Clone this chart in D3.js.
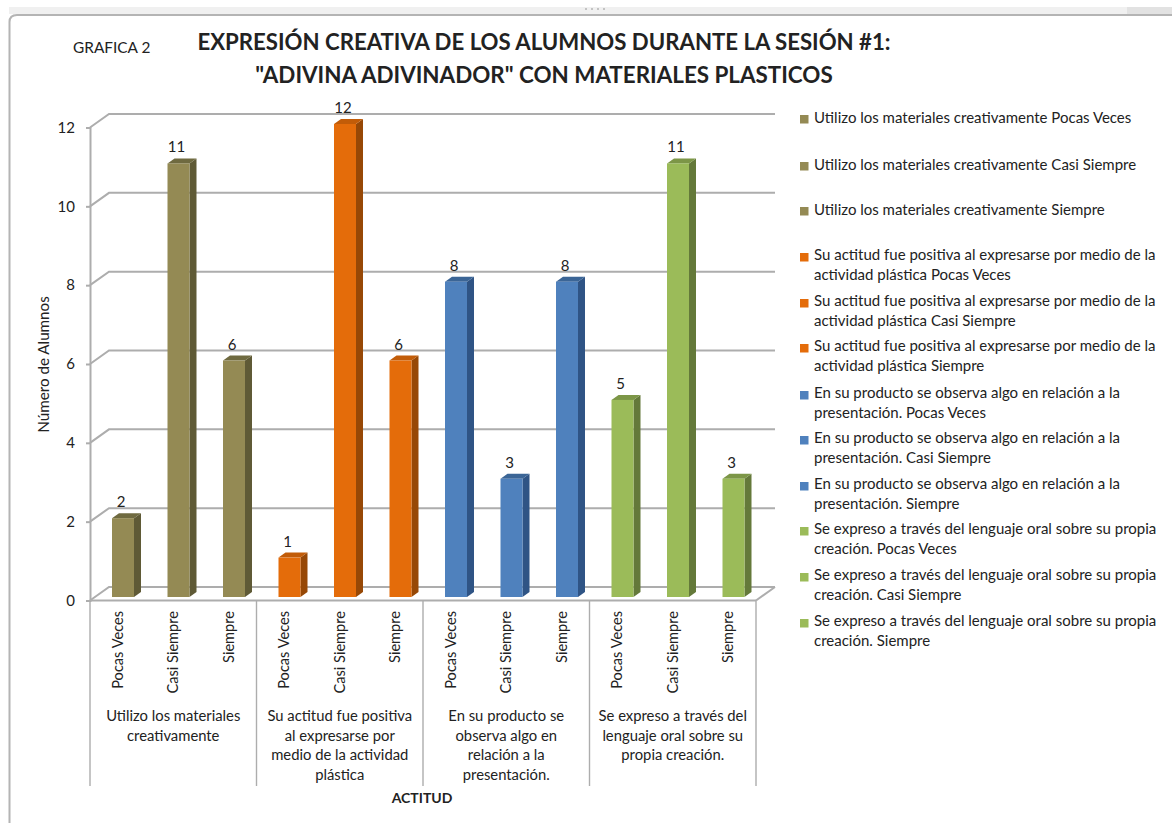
<!DOCTYPE html>
<html>
<head>
<meta charset="utf-8">
<script src="https://cdn.jsdelivr.net/npm/d3@7"></script>
<style>
  body { margin: 0; background: #fff; }
  text { font-family: Lato, "Open Sans", sans-serif; fill: #222; }
</style>
</head>
<body>
<svg id="chart" width="1172" height="823"></svg>
<script>
const frequency = ["Pocas Veces", "Casi Siempre", "Siempre"];
const groupLines = [
  ["Utilizo los materiales", "creativamente"],
  ["Su actitud fue positiva", "al expresarse por", "medio de la actividad", "plástica"],
  ["En su producto se", "observa algo en", "relación a la", "presentación."],
  ["Se expreso a través del", "lenguaje oral sobre su", "propia creación."]
];
const legendLines = [
  ["Utilizo los materiales creativamente Pocas Veces"],
  ["Utilizo los materiales creativamente Casi Siempre"],
  ["Utilizo los materiales creativamente Siempre"],
  ["Su actitud fue positiva al expresarse por medio de la", "actividad plástica Pocas Veces"],
  ["Su actitud fue positiva al expresarse por medio de la", "actividad plástica Casi Siempre"],
  ["Su actitud fue positiva al expresarse por medio de la", "actividad plástica Siempre"],
  ["En su producto se observa algo en relación a la", "presentación. Pocas Veces"],
  ["En su producto se observa algo en relación a la", "presentación. Casi Siempre"],
  ["En su producto se observa algo en relación a la", "presentación. Siempre"],
  ["Se expreso a través del lenguaje oral sobre su propia", "creación. Pocas Veces"],
  ["Se expreso a través del lenguaje oral sobre su propia", "creación. Casi Siempre"],
  ["Se expreso a través del lenguaje oral sobre su propia", "creación. Siempre"]
];
const legendTops = [118, 165, 210, 255, 301, 346, 393, 438, 484, 529, 575, 621];
const values = [2, 11, 6, 1, 12, 6, 8, 3, 8, 5, 11, 3];
const yTicks = [0, 2, 4, 6, 8, 10, 12];
const frontColors = ["#948a54", "#e46c0a", "#4f81bd", "#9bbb59"];
const sideColors = ["#5f5a36", "#974806", "#2f5485", "#64793a"];
const topColors = ["#6f6a40", "#c25c08", "#3b6596", "#7c9647"];

const svg = d3.select("#chart");

const plotLeft = 90, plotRight = 756, plotBottom = 600.5, plotTop = 127.5;
const depthX = 19, depthY = 13.5;
const barDepthX = 7, barDepthY = 5, barLift = 3.5;
const gridColor = "#adadad";

const x = d3.scaleBand().domain(d3.range(values.length)).range([plotLeft, plotRight]);
const y = d3.scaleLinear().domain([0, 12]).range([plotBottom, plotTop]);
const barOffset = 22, barWidth = 22;
const groupOf = i => Math.floor(i / frequency.length);

// window frame
svg.append("rect").attr("x", 9).attr("y", 7).attr("width", 1163).attr("height", 7).attr("fill", "#f0f0f0");
svg.append("rect").attr("x", 1127).attr("y", 7).attr("width", 45).attr("height", 7).attr("fill", "#e2e2e2");
svg.append("path")
  .attr("d", "M9.5,823V22Q9.5,15 17,15H1172")
  .attr("fill", "none").attr("stroke", "#b4b4b4").attr("stroke-width", 2);
svg.append("g").selectAll("circle").data(d3.range(4)).join("circle")
  .attr("cx", d => 586 + d * 6).attr("cy", 9).attr("r", 1).attr("fill", "#b4b4b4");

// back wall gridlines
svg.append("g").selectAll("path").data(yTicks).join("path")
  .attr("d", d => `M${plotLeft},${y(d)}L${plotLeft + depthX},${y(d) - depthY}H${plotRight + depthX}`)
  .attr("fill", "none").attr("stroke", gridColor).attr("stroke-width", 2);

// floor
svg.append("path")
  .attr("d", `M${plotRight},${plotBottom}L${plotRight + depthX},${plotBottom - depthY}`)
  .attr("fill", "none").attr("stroke", gridColor).attr("stroke-width", 2);

// bars
const bars = svg.append("g").selectAll("g").data(values).join("g");
const barX = i => x(i) + barOffset;
const barTop = d => y(d) - barLift;
const barBase = y(0) - barLift;
bars.append("path")
  .attr("fill", (d, i) => sideColors[groupOf(i)])
  .attr("d", (d, i) => `M${barX(i) + barWidth},${barTop(d)}l${barDepthX},${-barDepthY}V${barBase - barDepthY}l${-barDepthX},${barDepthY}Z`);
bars.append("path")
  .attr("fill", (d, i) => topColors[groupOf(i)])
  .attr("d", (d, i) => `M${barX(i)},${barTop(d)}l${barDepthX},${-barDepthY}h${barWidth}l${-barDepthX},${barDepthY}Z`);
bars.append("rect")
  .attr("x", (d, i) => barX(i))
  .attr("y", d => barTop(d))
  .attr("width", barWidth)
  .attr("height", d => barBase - barTop(d))
  .attr("fill", (d, i) => frontColors[groupOf(i)]);
bars.append("text")
  .attr("x", (d, i) => barX(i) + barWidth / 2 - 2)
  .attr("y", d => barTop(d) - 11)
  .attr("text-anchor", "middle")
  .attr("font-size", 15)
  .text(d => d);

// y axis
const yAxis = svg.append("g")
  .attr("transform", `translate(${plotLeft},0)`)
  .call(d3.axisLeft(y).tickValues(yTicks).tickSize(4).tickPadding(11));
yAxis.selectAll("path,line").attr("stroke", gridColor).attr("stroke-width", 2);
yAxis.selectAll("text").attr("font-size", 15).attr("font-family", "Lato").attr("fill", "#222");

svg.append("text")
  .attr("transform", "translate(49,364.5) rotate(-90)")
  .attr("text-anchor", "middle")
  .attr("font-size", 15.2)
  .text("Número de Alumnos");

// x axis with group separators
svg.append("line")
  .attr("x1", plotLeft).attr("x2", plotRight)
  .attr("y1", plotBottom).attr("y2", plotBottom)
  .attr("stroke", gridColor).attr("stroke-width", 2);
svg.append("g").selectAll("line").data(d3.range(groupLines.length + 1)).join("line")
  .attr("x1", d => plotLeft + d * 3 * x.step())
  .attr("x2", d => plotLeft + d * 3 * x.step())
  .attr("y1", plotBottom).attr("y2", 786)
  .attr("stroke", gridColor).attr("stroke-width", 1.4);

svg.append("g").selectAll("text").data(values).join("text")
  .attr("transform", (d, i) => `translate(${x(i) + x.bandwidth() / 2},611) rotate(-90)`)
  .attr("dy", "0.35em")
  .attr("text-anchor", "end")
  .attr("font-size", 14.6)
  .text((d, i) => frequency[i % frequency.length]);

const groupLabels = svg.append("g").selectAll("text").data(groupLines).join("text")
  .attr("x", (d, i) => plotLeft + (i + 0.5) * 3 * x.step())
  .attr("text-anchor", "middle")
  .attr("font-size", 14.8);
groupLabels.selectAll("tspan").data(d => d).join("tspan")
  .attr("x", function() { return d3.select(this.parentNode).attr("x"); })
  .attr("y", (d, i) => 721 + i * 19.5)
  .text(d => d);

svg.append("text")
  .attr("x", 422).attr("y", 803)
  .attr("text-anchor", "middle")
  .attr("font-size", 14).attr("font-weight", "bold")
  .text("ACTITUD");

// titles
svg.append("text").attr("x", 73).attr("y", 53).attr("font-size", 15.4).text("GRAFICA 2");
svg.append("text").attr("x", 544).attr("y", 50)
  .attr("text-anchor", "middle").attr("font-size", 22.2).attr("font-weight", "bold").attr("fill", "#111")
  .text("EXPRESIÓN CREATIVA DE LOS ALUMNOS DURANTE LA SESIÓN #1:");
svg.append("text").attr("x", 544).attr("y", 83)
  .attr("text-anchor", "middle").attr("font-size", 22.4).attr("font-weight", "bold").attr("fill", "#111")
  .text("\"ADIVINA ADIVINADOR\" CON MATERIALES PLASTICOS");

// legend
const legend = svg.append("g").selectAll("g").data(legendLines).join("g")
  .attr("transform", (d, i) => `translate(800,${legendTops[i]})`);
legend.append("rect")
  .attr("x", 0).attr("y", (d, i) => i < 3 ? -3 : -2).attr("width", 8.5).attr("height", 8.5)
  .attr("fill", (d, i) => frontColors[Math.floor(i / 3)]);
legend.append("text").attr("font-size", 15)
  .selectAll("tspan").data(d => d).join("tspan")
  .attr("x", 14)
  .attr("y", (d, i) => 5 + i * 19.5)
  .text(d => d);
</script>
</body>
</html>
